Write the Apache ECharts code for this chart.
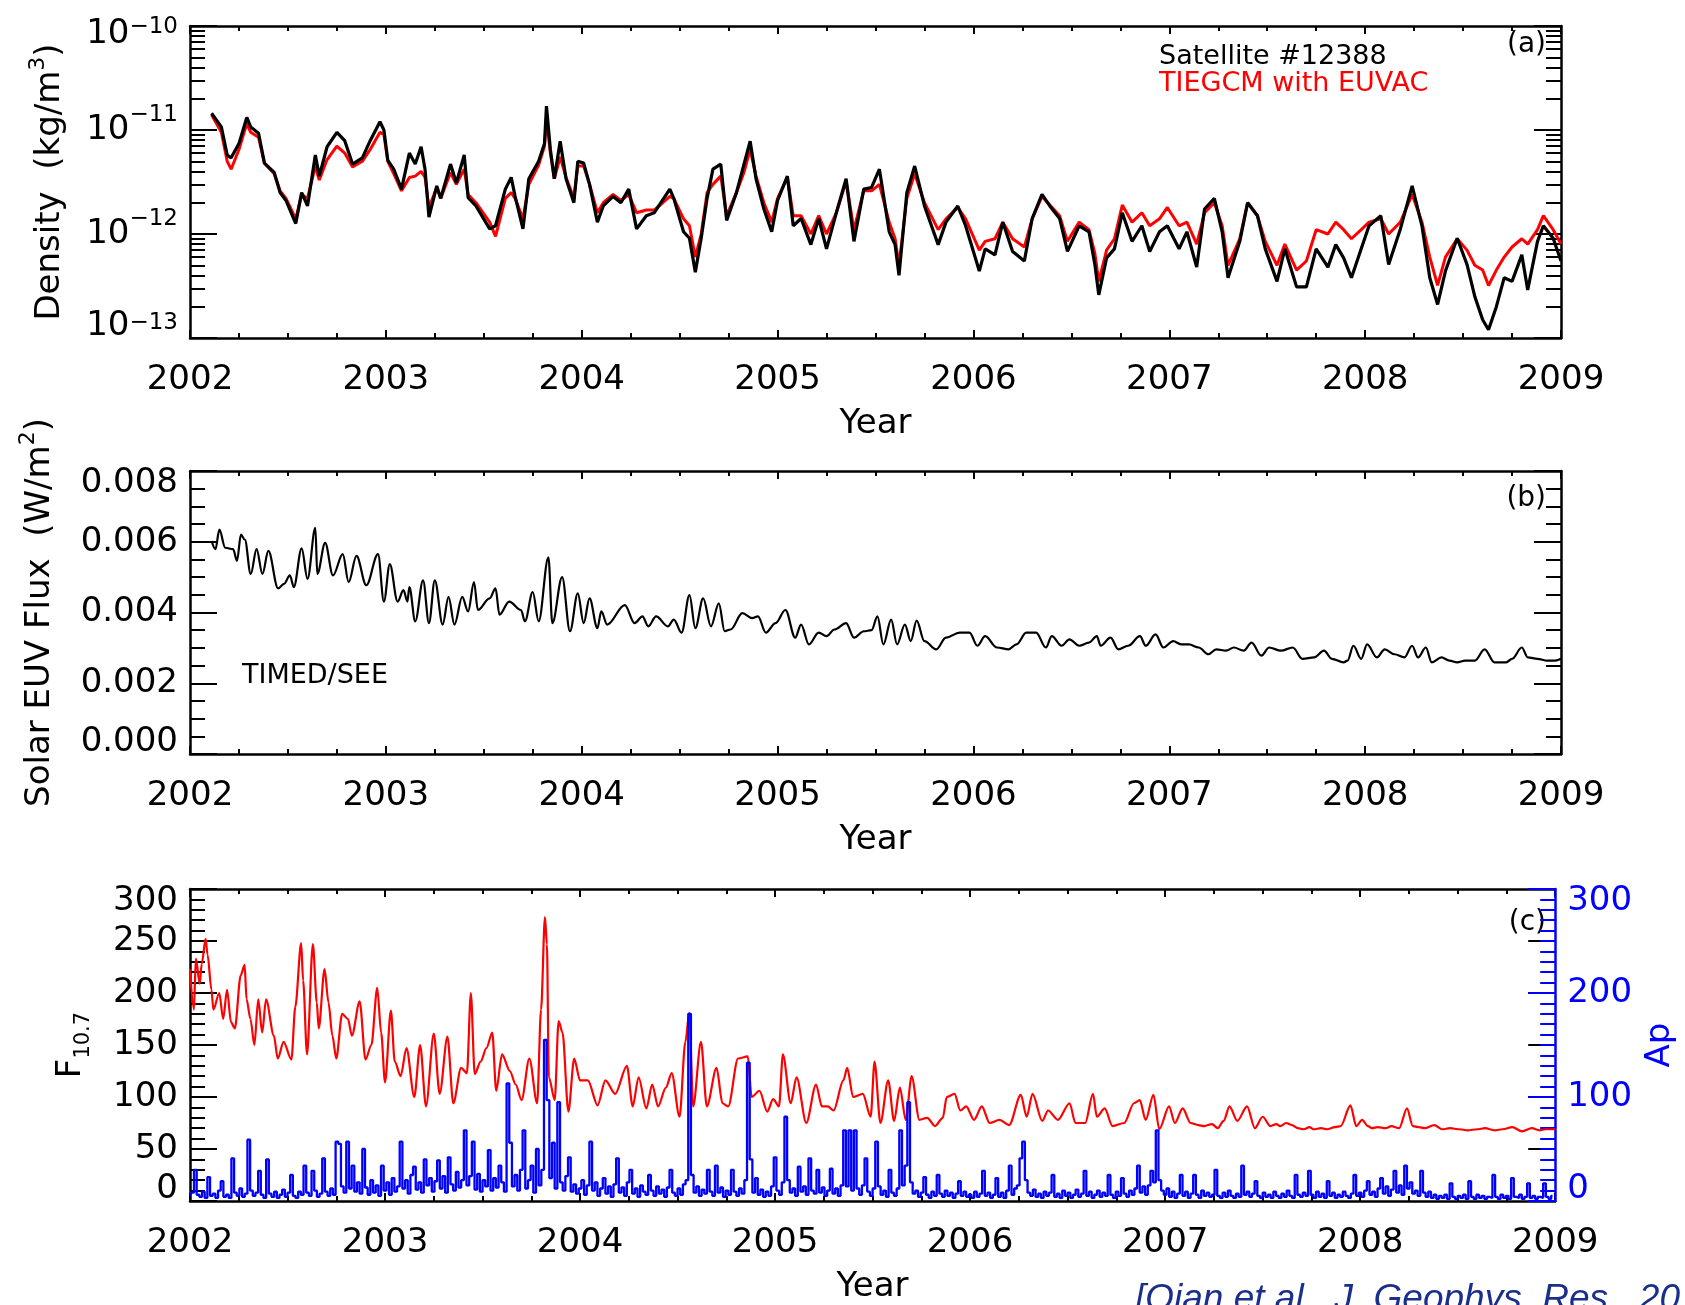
<!DOCTYPE html>
<html>
<head>
<meta charset="utf-8">
<script src="https://cdn.jsdelivr.net/npm/echarts@6/dist/echarts.min.js"></script>
<style>
html, body { margin: 0; padding: 0; background: #fff; }
#chart { width: 1685px; height: 1305px; }
</style>
</head>
<body>
<div id="chart"></div>
<script>
const FONT = 'DejaVu Sans';
const BLACK = '#000000', RED = '#ff0000', BLUE = '#0000ff';

// (a) neutral density, in units of 1e-12 kg/m3
const densTime = [
  2002.11, 2002.16, 2002.19, 2002.21, 2002.25, 2002.29, 2002.31, 2002.35, 2002.38, 2002.43,
  2002.46, 2002.49, 2002.54, 2002.57, 2002.60, 2002.64, 2002.66, 2002.70, 2002.75, 2002.79,
  2002.83, 2002.88, 2002.92, 2002.97, 2002.99, 2003.01, 2003.04, 2003.08, 2003.12, 2003.15,
  2003.18, 2003.20, 2003.22, 2003.26, 2003.28, 2003.33, 2003.36, 2003.40, 2003.42, 2003.46,
  2003.53, 2003.56, 2003.61, 2003.64, 2003.66, 2003.70, 2003.73, 2003.78, 2003.81, 2003.82,
  2003.84, 2003.86, 2003.89, 2003.92, 2003.96, 2003.98, 2004.01, 2004.04, 2004.08, 2004.11,
  2004.16, 2004.20, 2004.24, 2004.28, 2004.33, 2004.37, 2004.40, 2004.45, 2004.47, 2004.52,
  2004.55, 2004.58, 2004.61, 2004.64, 2004.67, 2004.71, 2004.74, 2004.79, 2004.83, 2004.86,
  2004.89, 2004.93, 2004.97, 2005.00, 2005.05, 2005.08, 2005.12, 2005.17, 2005.21, 2005.25,
  2005.30, 2005.35, 2005.39, 2005.44, 2005.48, 2005.52, 2005.57, 2005.60, 2005.62, 2005.66,
  2005.70, 2005.75, 2005.82, 2005.86, 2005.92, 2005.96, 2006.03, 2006.06, 2006.11, 2006.15,
  2006.20, 2006.26, 2006.30, 2006.35, 2006.39, 2006.44, 2006.48, 2006.54, 2006.59, 2006.62,
  2006.64, 2006.68, 2006.72, 2006.76, 2006.81, 2006.86, 2006.90, 2006.95, 2006.99, 2007.05,
  2007.09, 2007.14, 2007.18, 2007.23, 2007.27, 2007.30, 2007.36, 2007.40, 2007.45, 2007.49,
  2007.55, 2007.59, 2007.65, 2007.70, 2007.75, 2007.81, 2007.85, 2007.89, 2007.93, 2007.98,
  2008.02, 2008.08, 2008.12, 2008.18, 2008.24, 2008.29, 2008.33, 2008.37, 2008.41, 2008.47,
  2008.52, 2008.56, 2008.60, 2008.63, 2008.67, 2008.71, 2008.75, 2008.80, 2008.83, 2008.88,
  2008.91, 2008.96, 2009.00
];
const densObs = [
  14.5, 10.7, 5.75, 5.4, 7.4, 13.2, 10.7, 9.3, 4.8, 3.9,
  2.5, 2.1, 1.26, 2.5, 1.86, 5.75, 3.6, 6.9, 9.5, 7.9,
  4.7, 5.4, 7.9, 12.0, 10.0, 5.1, 4.2, 2.7, 6.0, 4.7,
  6.9, 4.2, 1.45, 2.9, 2.2, 4.7, 3.1, 5.75, 2.24, 1.86,
  1.12, 1.2, 2.7, 3.5, 2.3, 1.12, 3.4, 5.0, 7.4, 17,
  6.5, 3.4, 7.8, 3.4, 2.0, 5.0, 4.8, 3.0, 1.3, 1.86,
  2.3, 2.0, 2.7, 1.12, 1.5, 1.6, 1.95, 2.7, 2.2, 1.05,
  0.91, 0.43, 0.91, 2.2, 4.2, 4.7, 1.35, 2.5, 4.8, 7.8,
  3.4, 1.74, 1.05, 2.1, 3.6, 1.2, 1.41, 0.79, 1.41, 0.72,
  1.6, 3.4, 0.85, 2.7, 2.8, 4.2, 1.05, 0.79, 0.40, 2.5,
  4.5, 1.86, 0.79, 1.3, 1.86, 1.2, 0.44, 0.72, 0.63, 1.3,
  0.68, 0.55, 1.41, 2.4, 1.86, 1.41, 0.68, 1.2, 1.05, 0.51,
  0.26, 0.59, 0.72, 1.6, 0.85, 1.2, 0.68, 1.05, 1.2, 0.72,
  1.05, 0.48, 1.74, 2.2, 1.05, 0.38, 0.85, 2.0, 1.5, 0.72,
  0.35, 0.72, 0.31, 0.31, 0.72, 0.48, 0.79, 0.59, 0.38, 0.72,
  1.2, 1.5, 0.51, 1.12, 2.9, 1.2, 0.38, 0.21, 0.44, 0.91,
  0.51, 0.25, 0.15, 0.12, 0.20, 0.38, 0.35, 0.63, 0.29, 0.85,
  1.2, 0.91, 0.55
];
const densModel = [
  14, 9.5, 5.0, 4.2, 6.5, 11.5, 9.5, 8.5, 4.8, 3.8,
  2.6, 2.2, 1.4, 2.4, 2.2, 4.5, 3.3, 5.2, 7.0, 6.0,
  4.4, 5.0, 6.5, 9.5, 9.0, 5.0, 3.8, 2.6, 3.5, 3.6,
  4.0, 3.5, 1.8, 2.8, 2.2, 3.9, 3.0, 4.2, 2.4, 2.0,
  1.3, 0.95, 2.2, 2.5, 2.2, 1.4, 3.0, 4.6, 7.0, 13,
  6.0, 3.4, 5.5, 3.5, 2.2, 4.5, 4.5, 3.0, 1.6, 2.0,
  2.4, 2.1, 2.4, 1.6, 1.7, 1.7, 1.9, 2.3, 2.2, 1.4,
  1.2, 0.6, 1.0, 2.5, 3.0, 3.6, 1.5, 2.5, 4.0, 6.5,
  3.6, 2.0, 1.3, 2.2, 3.5, 1.5, 1.5, 1.0, 1.5, 1.0,
  1.6, 3.2, 1.1, 2.6, 2.6, 3.0, 1.3, 0.9, 0.5, 2.2,
  3.8, 2.0, 1.1, 1.4, 1.8, 1.4, 0.7, 0.85, 0.9, 1.3,
  0.9, 0.75, 1.4, 2.3, 1.9, 1.5, 0.85, 1.3, 1.1, 0.65,
  0.35, 0.7, 0.9, 1.9, 1.3, 1.6, 1.2, 1.4, 1.8, 1.2,
  1.3, 0.8, 1.6, 2.0, 1.2, 0.5, 0.9, 2.0, 1.5, 0.85,
  0.5, 0.8, 0.45, 0.55, 1.1, 1.0, 1.3, 1.1, 0.9, 1.1,
  1.3, 1.4, 1.0, 1.3, 2.4, 1.3, 0.6, 0.32, 0.6, 0.9,
  0.7, 0.5, 0.45, 0.32, 0.45, 0.6, 0.75, 0.9, 0.8, 1.1,
  1.5, 1.1, 0.8
];

// (b) TIMED/SEE EUV flux, [year, mW/m2]
const euvFlux = [
  [2002.11, 6.02], [2002.13, 5.79], [2002.15, 6.34], [2002.18, 5.83], [2002.22, 5.79], [2002.24, 5.46], [2002.26, 6.2], [2002.28, 6.06],
  [2002.31, 5.09], [2002.34, 5.79], [2002.37, 5.09], [2002.40, 5.74], [2002.45, 4.68], [2002.48, 4.81], [2002.51, 5.05], [2002.53, 4.72],
  [2002.57, 5.81], [2002.60, 4.95], [2002.64, 6.39], [2002.65, 5.09], [2002.69, 5.97], [2002.73, 5.05], [2002.78, 5.65], [2002.81, 4.86],
  [2002.85, 5.6], [2002.90, 4.77], [2002.96, 5.65], [2002.99, 4.31], [2003.02, 5.37], [2003.06, 4.31], [2003.09, 4.63], [2003.11, 4.31],
  [2003.12, 4.72], [2003.15, 3.75], [2003.19, 4.91], [2003.22, 3.70], [2003.25, 4.91], [2003.29, 3.66], [2003.32, 4.44], [2003.35, 3.66],
  [2003.39, 4.44], [2003.42, 4.03], [2003.45, 4.86], [2003.47, 4.07], [2003.53, 4.4], [2003.56, 4.68], [2003.58, 3.94], [2003.63, 4.31],
  [2003.69, 4.07], [2003.71, 3.75], [2003.75, 4.58], [2003.78, 3.75], [2003.83, 5.56], [2003.85, 3.70], [2003.90, 5.0], [2003.94, 3.47],
  [2003.98, 4.54], [2004.01, 3.70], [2004.04, 4.40], [2004.08, 3.56], [2004.10, 4.03], [2004.13, 3.66], [2004.22, 4.21], [2004.27, 3.70],
  [2004.31, 3.89], [2004.34, 3.61], [2004.38, 3.89], [2004.44, 3.61], [2004.47, 3.80], [2004.51, 3.43], [2004.55, 4.49], [2004.58, 3.56],
  [2004.62, 4.40], [2004.66, 3.61], [2004.70, 4.26], [2004.73, 3.47], [2004.76, 3.52], [2004.82, 3.98], [2004.87, 3.84], [2004.90, 3.89],
  [2004.94, 3.43], [2004.99, 3.70], [2005.04, 4.07], [2005.09, 3.29], [2005.12, 3.66], [2005.16, 3.10], [2005.21, 3.43], [2005.25, 3.33],
  [2005.29, 3.52], [2005.35, 3.70], [2005.39, 3.29], [2005.44, 3.47], [2005.48, 3.5], [2005.51, 3.89], [2005.54, 3.10], [2005.58, 3.80],
  [2005.61, 3.10], [2005.65, 3.66], [2005.68, 3.19], [2005.71, 3.77], [2005.75, 3.19], [2005.81, 2.96], [2005.86, 3.29], [2005.93, 3.43],
  [2005.98, 3.43], [2006.02, 3.06], [2006.06, 3.33], [2006.12, 3.01], [2006.18, 2.96], [2006.22, 3.10], [2006.27, 3.43], [2006.32, 3.43],
  [2006.37, 3.01], [2006.40, 3.33], [2006.45, 3.06], [2006.49, 3.24], [2006.54, 3.06], [2006.59, 3.15], [2006.63, 3.33], [2006.65, 3.06],
  [2006.70, 3.29], [2006.74, 2.96], [2006.79, 3.06], [2006.85, 3.33], [2006.88, 3.06], [2006.93, 3.38], [2006.97, 3.01], [2007.02, 3.19],
  [2007.06, 3.10], [2007.10, 3.10], [2007.15, 3.01], [2007.20, 2.82], [2007.24, 2.96], [2007.29, 2.92], [2007.33, 3.01], [2007.38, 2.92],
  [2007.42, 3.15], [2007.47, 2.78], [2007.51, 3.01], [2007.57, 2.92], [2007.63, 3.01], [2007.68, 2.69], [2007.74, 2.73], [2007.79, 2.92],
  [2007.83, 2.69], [2007.89, 2.59], [2007.91, 2.64], [2007.94, 3.06], [2007.98, 2.69], [2008.01, 3.10], [2008.06, 2.73], [2008.10, 2.96],
  [2008.15, 2.82], [2008.20, 2.73], [2008.24, 3.06], [2008.27, 2.73], [2008.31, 3.01], [2008.34, 2.59], [2008.39, 2.73], [2008.43, 2.64],
  [2008.47, 2.59], [2008.51, 2.64], [2008.56, 2.64], [2008.61, 2.96], [2008.66, 2.59], [2008.72, 2.59], [2008.75, 2.69], [2008.80, 3.01],
  [2008.83, 2.73], [2008.88, 2.69], [2008.93, 2.64], [2008.97, 2.64], [2009.00, 2.69]
];

// (c) F10.7 solar radio flux, [year, sfu]
const f107 = [
  [2002.00, 223], [2002.02, 184], [2002.03, 233], [2002.05, 209], [2002.06, 228], [2002.08, 252], [2002.09, 237], [2002.11, 203],
  [2002.12, 184], [2002.15, 200], [2002.17, 175], [2002.19, 203], [2002.21, 172], [2002.23, 166], [2002.26, 217], [2002.28, 227],
  [2002.29, 194], [2002.31, 175], [2002.33, 150], [2002.35, 194], [2002.37, 162], [2002.39, 194], [2002.43, 159], [2002.45, 137],
  [2002.48, 153], [2002.52, 136], [2002.54, 187], [2002.57, 248], [2002.58, 212], [2002.60, 141], [2002.63, 247], [2002.65, 191],
  [2002.66, 166], [2002.69, 223], [2002.71, 191], [2002.73, 159], [2002.75, 137], [2002.78, 180], [2002.81, 175], [2002.83, 159],
  [2002.87, 192], [2002.90, 136], [2002.93, 150], [2002.96, 205], [2002.98, 162], [2003.00, 114], [2003.03, 183], [2003.05, 134],
  [2003.08, 120], [2003.11, 147], [2003.15, 100], [2003.18, 150], [2003.21, 91], [2003.25, 161], [2003.28, 103], [2003.32, 158],
  [2003.35, 94], [2003.39, 128], [2003.42, 123], [2003.44, 200], [2003.46, 122], [2003.49, 134], [2003.52, 147], [2003.55, 162],
  [2003.57, 106], [2003.60, 141], [2003.64, 125], [2003.67, 112], [2003.70, 97], [2003.74, 137], [2003.78, 94], [2003.80, 184],
  [2003.82, 273], [2003.83, 247], [2003.84, 119], [2003.87, 97], [2003.89, 173], [2003.91, 162], [2003.94, 86], [2003.97, 137],
  [2004.00, 116], [2004.04, 116], [2004.09, 92], [2004.13, 116], [2004.18, 103], [2004.24, 130], [2004.27, 91], [2004.30, 119],
  [2004.34, 89], [2004.37, 112], [2004.40, 91], [2004.44, 109], [2004.47, 123], [2004.51, 81], [2004.54, 153], [2004.56, 181],
  [2004.58, 91], [2004.62, 153], [2004.65, 91], [2004.70, 128], [2004.73, 94], [2004.76, 91], [2004.81, 137], [2004.86, 139],
  [2004.88, 100], [2004.92, 106], [2004.96, 86], [2004.99, 98], [2005.02, 91], [2005.04, 141], [2005.08, 94], [2005.11, 119],
  [2005.16, 75], [2005.21, 112], [2005.24, 91], [2005.27, 91], [2005.30, 87], [2005.35, 116], [2005.37, 128], [2005.40, 100],
  [2005.45, 103], [2005.49, 81], [2005.51, 134], [2005.54, 75], [2005.58, 116], [2005.61, 77], [2005.64, 109], [2005.67, 78],
  [2005.70, 120], [2005.74, 78], [2005.78, 80], [2005.82, 72], [2005.86, 80], [2005.88, 100], [2005.92, 103], [2005.95, 87],
  [2005.98, 91], [2006.02, 78], [2006.06, 91], [2006.10, 75], [2006.15, 78], [2006.20, 73], [2006.26, 102], [2006.29, 81],
  [2006.32, 103], [2006.37, 77], [2006.40, 87], [2006.45, 78], [2006.51, 94], [2006.54, 75], [2006.59, 75], [2006.63, 103],
  [2006.65, 81], [2006.69, 89], [2006.73, 72], [2006.79, 75], [2006.84, 94], [2006.87, 97], [2006.90, 78], [2006.94, 102],
  [2006.97, 69], [2007.02, 91], [2007.05, 75], [2007.09, 89], [2007.13, 75], [2007.17, 73], [2007.20, 72], [2007.24, 74],
  [2007.27, 70], [2007.30, 77], [2007.33, 91], [2007.37, 77], [2007.42, 91], [2007.46, 70], [2007.50, 81], [2007.54, 72],
  [2007.57, 74], [2007.59, 72], [2007.62, 75], [2007.65, 73], [2007.68, 70], [2007.71, 69], [2007.74, 71], [2007.76, 69],
  [2007.80, 70], [2007.83, 69], [2007.87, 71], [2007.90, 72], [2007.95, 92], [2007.98, 72], [2008.01, 78], [2008.04, 72],
  [2008.06, 70], [2008.09, 71], [2008.13, 70], [2008.16, 72], [2008.20, 70], [2008.24, 89], [2008.27, 72], [2008.30, 71],
  [2008.33, 70], [2008.38, 73], [2008.42, 69], [2008.46, 70], [2008.51, 69], [2008.55, 68], [2008.60, 69], [2008.64, 70],
  [2008.69, 68], [2008.73, 69], [2008.78, 71], [2008.83, 67], [2008.88, 70], [2008.92, 68], [2008.95, 69], [2009.00, 69]
];

// (c) Ap index, 73 samples per year (about every 5 days)
const AP_PER_YEAR = 73;
const ap2002 = [5,8,30,6,4,9,3,23,5,7, 3,10,19,4,6,3,41,8,5,12, 4,7,59,10,5,8,29,6,3,40, 7,4,9,3,6,11,4,8,25,5, 3,9,6,34,8,5,29,10,4,7, 41,9,5,12,6,57,55,14,8,57, 12,34,9,18,7,50,13,6,20,8, 15,5,34];
const ap2003 = [10,18,6,22,9,14,57,12,20,7, 25,33,11,18,8,40,15,22,9,19, 39,12,24,8,42,16,10,28,13,20, 68,15,24,57,11,26,9,20,14,49, 10,22,13,34,18,9,113,56,14,25, 10,30,68,12,20,34,8,50,15,30, 155,97,22,56,12,95,18,10,24,42, 9,16,7];
const ap2004 = [12,20,6,15,57,10,18,5,12,22, 7,14,4,16,41,8,13,5,18,30, 7,12,4,15,9,6,25,10,5,14, 7,11,4,13,30,8,5,12,6,16, 20,180,25,8,14,5,11,7,30,9, 5,34,8,13,4,10,6,30,9,5, 12,7,20,133,40,8,22,6,11,4, 9,5,14];
const ap2005 = [42,10,6,18,81,20,8,12,5,33, 9,14,6,41,10,7,30,8,13,5, 10,31,7,12,5,15,68,14,68,10, 68,12,6,15,41,9,5,12,57,14, 6,10,4,30,8,5,12,68,15,34, 95,18,7,10,4,8,23,6,3,9, 5,25,7,4,10,5,8,3,7,19, 5,9,4];
const ap2006 = [6,3,9,4,7,29,5,8,3,6, 22,4,8,3,10,34,6,12,15,41, 57,20,8,5,11,4,7,3,9,5, 8,25,4,7,3,10,5,8,3,6, 11,4,7,29,5,9,3,6,10,4, 8,5,25,6,3,9,5,22,7,4, 10,6,12,34,8,14,6,15,29,18, 68,20,10];
const ap2007 = [6,12,4,9,3,7,25,5,9,3, 7,25,6,3,10,5,8,4,6,30, 5,3,8,4,10,5,3,7,4,34, 6,9,4,7,19,5,3,8,4,6, 3,9,5,3,7,4,10,5,3,25, 6,4,8,5,29,6,3,9,4,7, 3,19,5,8,3,6,4,9,5,3, 7,25,5];
const ap2008 = [8,4,10,19,6,9,4,12,22,7, 14,5,11,29,8,15,6,34,12,18, 7,10,5,29,8,4,9,3,6,2, 5,3,6,2,17,4,2,5,3,6, 2,19,4,2,6,3,5,2,4,3, 25,4,2,6,3,5,2,22,4,3, 6,2,4,17,3,5,2,4,3,17, 4,2,5];

// axis settings
const yearRange = [2002, 2009];
const logMinorMult = [2, 3, 4, 5, 6, 7, 8, 9];
const logDecades = [-13, -12, -11];

const chart = echarts.init(document.getElementById('chart'));

const logMinor = [];
logDecades.forEach(n => logMinorMult.forEach(k => logMinor.push(n + Math.log10(k))));

const apAll = [].concat(ap2002, ap2003, ap2004, ap2005, ap2006, ap2007, ap2008);
const apData = apAll.map((v, i) => [yearRange[0] + i / AP_PER_YEAR, v]);

function edgeFmt(lo, hi, fmt) {
  return v => {
    const s = fmt(v);
    const tol = 1e-9 * Math.max(1, Math.abs(hi));
    if (Math.abs(v - hi) < tol) return '{hi|' + s + '}';
    if (Math.abs(v - lo) < tol) return '{lo|' + s + '}';
    return s;
  };
}
function edgeRich(color) {
  return {
    hi: {fontSize: 34, fontFamily: FONT, color: color, padding: [24, 0, 0, 0]},
    lo: {fontSize: 34, fontFamily: FONT, color: color, padding: [0, 0, 24, 0]}
  };
}
const supName = color => ({
  n: {fontSize: 34, fontFamily: FONT, color: color, lineHeight: 46},
  p: {fontSize: 22, fontFamily: FONT, color: color, lineHeight: 22, verticalAlign: 'top'},
  sub: {fontSize: 21, fontFamily: FONT, color: color, lineHeight: 21, verticalAlign: 'bottom'}
});

function xAx(grid, top) {
  return {
    type: 'value', gridIndex: grid, position: top ? 'top' : 'bottom',
    min: yearRange[0], max: yearRange[1], interval: 1,
    axisLine: {show: true, onZero: false, lineStyle: {color: BLACK, width: 2.5}},
    axisTick: {show: true, inside: true, length: 8, lineStyle: {color: BLACK, width: 2}},
    minorTick: {show: true, splitNumber: 4, length: 5, lineStyle: {color: BLACK, width: 2}},
    splitLine: {show: false},
    axisLabel: {
      show: !top, margin: 25, fontSize: 34, fontFamily: FONT, color: BLACK,
      showMinLabel: true, showMaxLabel: true, formatter: v => String(v)
    },
    name: top ? '' : 'Year', nameLocation: 'middle', nameGap: 69,
    nameTextStyle: {fontSize: 34, fontFamily: FONT, color: BLACK}
  };
}

const tickLong = color => ({show: true, inside: true, length: 27, lineStyle: {color: color, width: 2}});
const noLine = {show: false, onZero: false};
const boxLine = color => ({show: true, onZero: false, lineStyle: {color: color, width: 2.5}});

const logLabelRich = (() => {
  const b = pad => ({fontSize: 34, fontFamily: FONT, color: BLACK, lineHeight: 52, padding: pad});
  const s = pad => ({fontSize: 23, fontFamily: FONT, color: BLACK, lineHeight: 23, verticalAlign: 'top', padding: pad});
  return {
    b: b([0, 0, 0, 0]), s: s([0, 0, 0, 0]),
    bT: b([16, 0, 0, 0]), sT: s([16, 0, 0, 0]),
    bB: b([0, 0, 24, 0]), sB: s([0, 0, 24, 0])
  };
})();
function logLabel(v) {
  const e = Math.round(Math.log10(v));
  const k = e === -10 ? 'T' : (e === -13 ? 'B' : '');
  return '{b' + k + '|10}{s' + k + '|\u2212' + Math.abs(e) + '}';
}

const yAxes = [
  // 0: density, log, left
  {
    type: 'log', logBase: 10, gridIndex: 0, position: 'left', min: 1e-13, max: 1e-10,
    axisLine: boxLine(BLACK), axisTick: tickLong(BLACK), splitLine: {show: false},
    axisLabel: {margin: 12, formatter: logLabel, rich: logLabelRich, showMinLabel: true, showMaxLabel: true},
    name: '{n|Density  (kg/m}{p|3}{n|)}', nameLocation: 'middle', nameRotate: 90, nameGap: 117,
    nameTextStyle: {rich: supName(BLACK)}
  },
  // 1: density minor ticks, left
  {
    type: 'value', gridIndex: 0, position: 'left', min: -13, max: -10,
    axisLine: noLine, splitLine: {show: false}, axisLabel: {show: false},
    axisTick: {show: true, inside: true, length: 15, customValues: logMinor, lineStyle: {color: BLACK, width: 2}}
  },
  // 2: density mirror, right
  {
    type: 'log', logBase: 10, gridIndex: 0, position: 'right', min: 1e-13, max: 1e-10,
    axisLine: boxLine(BLACK), axisTick: tickLong(BLACK), splitLine: {show: false}, axisLabel: {show: false}
  },
  // 3: density minor ticks, right
  {
    type: 'value', gridIndex: 0, position: 'right', min: -13, max: -10,
    axisLine: noLine, splitLine: {show: false}, axisLabel: {show: false},
    axisTick: {show: true, inside: true, length: 15, customValues: logMinor, lineStyle: {color: BLACK, width: 2}}
  },
  // 4: EUV, left
  {
    type: 'value', gridIndex: 1, position: 'left', min: 0, max: 0.008, interval: 0.002,
    axisLine: boxLine(BLACK), axisTick: tickLong(BLACK), splitLine: {show: false},
    minorTick: {show: true, splitNumber: 4, length: 15, lineStyle: {color: BLACK, width: 2}},
    axisLabel: {
      margin: 12, fontSize: 34, fontFamily: FONT, color: BLACK, showMinLabel: true, showMaxLabel: true,
      formatter: edgeFmt(0, 0.008, v => v.toFixed(3)), rich: edgeRich(BLACK)
    },
    name: '{n|Solar EUV Flux  (W/m}{p|2}{n|)}', nameLocation: 'middle', nameRotate: 90, nameGap: 127,
    nameTextStyle: {rich: supName(BLACK)}
  },
  // 5: EUV mirror, right
  {
    type: 'value', gridIndex: 1, position: 'right', min: 0, max: 0.008, interval: 0.002,
    axisLine: boxLine(BLACK), axisTick: tickLong(BLACK), splitLine: {show: false},
    minorTick: {show: true, splitNumber: 4, length: 15, lineStyle: {color: BLACK, width: 2}},
    axisLabel: {show: false}
  },
  // 6: F10.7, left
  {
    type: 'value', gridIndex: 2, position: 'left', min: 0, max: 300, interval: 50,
    axisLine: boxLine(BLACK), axisTick: tickLong(BLACK), splitLine: {show: false},
    minorTick: {show: true, splitNumber: 5, length: 15, lineStyle: {color: BLACK, width: 2}},
    axisLabel: {
      margin: 12, fontSize: 34, fontFamily: FONT, color: BLACK, showMinLabel: true, showMaxLabel: true,
      formatter: edgeFmt(0, 300, v => String(v)), rich: edgeRich(BLACK)
    },
    name: '{n|F}{sub|10.7}', nameLocation: 'middle', nameRotate: 90, nameGap: 96,
    nameTextStyle: {rich: supName(BLACK)}
  },
  // 7: F10.7 major ticks mirrored on the right
  {
    type: 'value', gridIndex: 2, position: 'right', min: 0, max: 300, interval: 50, z: 1,
    axisLine: noLine, axisTick: tickLong(BLACK), splitLine: {show: false}, axisLabel: {show: false}
  },
  // 8: Ap, right
  {
    type: 'value', gridIndex: 2, position: 'right', min: 0, max: 300, interval: 100, z: 3,
    axisLine: boxLine(BLUE), axisTick: tickLong(BLUE), splitLine: {show: false},
    minorTick: {show: true, splitNumber: 10, length: 15, lineStyle: {color: BLUE, width: 2}},
    axisLabel: {
      margin: 12, fontSize: 34, fontFamily: FONT, color: BLUE, showMinLabel: true, showMaxLabel: true,
      formatter: edgeFmt(0, 300, v => String(v)), rich: edgeRich(BLUE)
    },
    name: 'Ap', nameLocation: 'middle', nameRotate: 90, nameGap: 86,
    nameTextStyle: {fontSize: 34, fontFamily: FONT, color: BLUE}
  }
];

const line = (name, xi, yi, data, color, width, extra) => Object.assign({
  name: name, type: 'line', xAxisIndex: xi, yAxisIndex: yi, data: data,
  showSymbol: false, symbol: 'none', lineStyle: {color: color, width: width}, itemStyle: {color: color}
}, extra || {});

const option = {
  animation: false,
  backgroundColor: '#ffffff',
  grid: [
    {left: 190, width: 1371, top: 21, height: 317},
    {left: 190, width: 1371, top: 471, height: 283},
    {left: 190, width: 1371, top: 889, height: 317}
  ],
  xAxis: [xAx(0, false), xAx(0, true), xAx(1, false), xAx(1, true), xAx(2, false), xAx(2, true)],
  yAxis: yAxes,
  legend: {
    left: 1149, top: 38, orient: 'vertical', itemWidth: 0, itemHeight: 0, itemGap: 0,
    selectedMode: false, icon: 'rect',
    textStyle: {fontSize: 27, fontFamily: FONT},
    data: [
      {name: 'Satellite #12388', textStyle: {color: BLACK}},
      {name: 'TIEGCM with EUVAC', textStyle: {color: RED}}
    ]
  },
  graphic: [
    {type: 'text', x: 1546, y: 45, style: {text: '(a)', fontSize: 28, fontFamily: FONT, fill: BLACK, align: 'right', verticalAlign: 'middle'}},
    {type: 'text', x: 1546, y: 499, style: {text: '(b)', fontSize: 28, fontFamily: FONT, fill: BLACK, align: 'right', verticalAlign: 'middle'}},
    {type: 'text', x: 1546, y: 923, style: {text: '(c)', fontSize: 28, fontFamily: FONT, fill: BLACK, align: 'right', verticalAlign: 'middle'}},
    {type: 'text', x: 242, y: 676, style: {text: 'TIMED/SEE', fontSize: 27, fontFamily: FONT, fill: BLACK, align: 'left', verticalAlign: 'middle'}},
    {type: 'text', x: 1135, y: 1281, style: {text: '[Qian et al., J. Geophys. Res., 20', fontSize: 37, fontStyle: 'italic', fontFamily: 'Liberation Sans', fill: '#1a2e8c', align: 'left', verticalAlign: 'top'}}
  ],
  series: [
    line('TIEGCM with EUVAC', 0, 0, densTime.map((t, i) => [t, densModel[i] * 1e-12]), RED, 3),
    line('Satellite #12388', 0, 0, densTime.map((t, i) => [t, densObs[i] * 1e-12]), BLACK, 3.2),
    line('EUV', 2, 4, euvFlux.map(p => [p[0], p[1] * 1e-3]), BLACK, 2.2, {smooth: 0.35, smoothMonotone: 'x'}),
    line('F10.7', 4, 6, f107, RED, 2.2, {smooth: 0.3, smoothMonotone: 'x'}),
    line('Ap', 4, 8, apData, BLUE, 2.3, {step: 'middle'})
  ]
};

chart.setOption(option);
</script>
</body>
</html>
